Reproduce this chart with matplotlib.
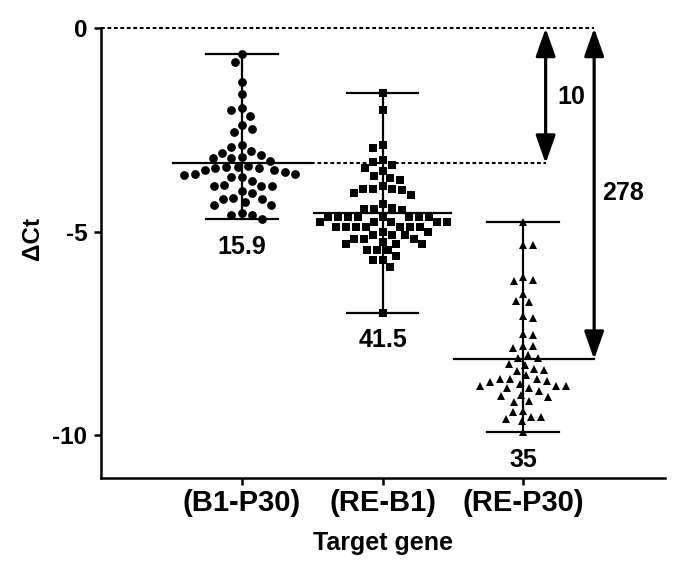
import numpy as np
import matplotlib
matplotlib.use("Agg")
import matplotlib.pyplot as plt
from matplotlib.patches import FancyArrowPatch

plt.rcParams['font.family'] = ['Liberation Sans', 'DejaVu Sans']
plt.rcParams['font.weight'] = 'bold'

# values (delta Ct)
groups = ["(B1-P30)", "(RE-B1)", "(RE-P30)"]
b1_p30 = [-0.63, -0.83, -1.32, -1.62, -1.97, -2.00, -2.15, -2.38, -2.47, -2.55,
          -2.88, -2.91, -3.01, -3.06, -3.11, -3.17, -3.18, -3.20, -3.25, -3.38,
          -3.41, -3.42, -3.44, -3.44, -3.49, -3.49, -3.52, -3.58, -3.59, -3.61,
          -3.66, -3.66, -3.75, -3.86, -3.88, -3.88, -3.88, -4.01, -4.06, -4.17,
          -4.19, -4.19, -4.26, -4.34, -4.34, -4.53, -4.58, -4.60, -4.69]
re_b1 = [-1.58, -2.01, -2.87, -2.93, -3.24, -3.29, -3.35, -3.44, -3.50, -3.62,
         -3.67, -3.72, -3.88, -3.95, -3.95, -3.95, -3.98, -4.06, -4.10, -4.33,
         -4.41, -4.44, -4.44, -4.47, -4.64, -4.64, -4.64, -4.64, -4.64, -4.64,
         -4.64, -4.64, -4.76, -4.76, -4.76, -4.76, -4.76, -4.88, -4.88, -4.88,
         -4.88, -4.88, -4.88, -4.88, -5.00, -5.00, -5.09, -5.09, -5.09, -5.17,
         -5.17, -5.17, -5.25, -5.31, -5.31, -5.31, -5.45, -5.45, -5.45, -5.59,
         -5.70, -5.70, -5.86, -6.99]
re_p30 = [-4.76, -5.32, -5.32, -6.11, -6.19, -6.22, -6.52, -6.70, -6.72, -7.08,
          -7.13, -7.52, -7.54, -7.81, -7.81, -7.85, -8.03, -8.10, -8.10, -8.24,
          -8.28, -8.38, -8.40, -8.43, -8.53, -8.61, -8.62, -8.62, -8.67, -8.69,
          -8.73, -8.79, -8.79, -8.79, -8.85, -8.85, -8.92, -9.00, -9.04, -9.06,
          -9.16, -9.18, -9.40, -9.44, -9.55, -9.55, -9.61, -9.65, -9.93]
group_notes = ["15.9", "41.5", "35"]
fold_labels = ["10", "278"]

series = [b1_p30, re_b1, re_p30]
markers = ["o", "s", "^"]
marker_sizes = [6.3, 6.0, 6.3]
gaps = [10.5, 9.8, 10.0]


def swarm_offsets(ax, x0, values, gap):
    """simple beeswarm in pixel space, returns x offsets in data units"""
    vals = np.asarray(values, dtype=float)
    pts = ax.transData.transform(np.column_stack([np.full(len(vals), x0), vals]))
    ys = pts[:, 1]
    ppu = ax.transData.transform([[1, 0]])[0, 0] - ax.transData.transform([[0, 0]])[0, 0]
    order = np.argsort(-vals)
    placed = []
    xs = np.zeros(len(vals))
    cands = np.arange(0, 200, 0.5)
    for n, i in enumerate(order):
        y = ys[i]
        best = 0.0
        found = False
        for c in cands:
            for s in ((1, -1) if n % 2 == 0 else (-1, 1)):
                x = c * s
                if all((x - px) ** 2 + (y - py) ** 2 >= gap ** 2 for px, py in placed):
                    best = x
                    found = True
                    break
            if found:
                break
        placed.append((best, y))
        xs[i] = best
    return xs / ppu


fig = plt.figure(figsize=(6.85, 5.65), dpi=100)
ax = fig.add_axes([0.148, 0.154, 0.823, 0.796])
ax.set_xlim(0, 4.01)
ax.set_ylim(-11.05, 0)

for spine in ["top", "right"]:
    ax.spines[spine].set_visible(False)
for spine in ["left", "bottom"]:
    ax.spines[spine].set_linewidth(1.8)

lw = 1.6
means = []
for i, (vals, mk, ms, gap) in enumerate(zip(series, markers, marker_sizes, gaps)):
    x0 = i + 1
    offs = swarm_offsets(ax, x0, vals, gap)
    ax.plot(x0 + offs, vals, linestyle="none", marker=mk, markersize=ms,
            color="black", markeredgewidth=0, zorder=3, clip_on=False)
    m = np.mean(vals)
    means.append(m)
    lo, hi = min(vals), max(vals)
    ax.plot([x0, x0], [lo, hi], color="black", lw=lw, zorder=4)
    ax.plot([x0 - 0.255, x0 + 0.255], [hi, hi], color="black", lw=lw, zorder=4)
    ax.plot([x0 - 0.255, x0 + 0.255], [lo, lo], color="black", lw=lw, zorder=4)
    right_end = 3.505 if i == 2 else x0 + 0.49
    ax.plot([x0 - 0.49, right_end], [m, m], color="black", lw=lw, zorder=4)
    ax.text(x0, lo - 0.68, group_notes[i], ha="center", va="center",
            fontsize=18, fontweight="bold")

# dotted reference lines
ax.plot([0, 3.505], [0, 0], color="black", lw=1.5, linestyle=(0, (1.8, 1.3)),
        clip_on=False, zorder=2)
ax.plot([1.49, 3.16], [means[0], means[0]], color="black", lw=1.5,
        linestyle=(0, (1.8, 1.3)), zorder=2)

# fold-change arrows
for xa, ytop, ybot in [(3.16, 0, means[0]), (3.505, 0, means[2])]:
    arr = FancyArrowPatch((xa, ybot), (xa, ytop),
                          arrowstyle="<|-|>,head_length=1.7,head_width=0.6",
                          mutation_scale=10, color="black", lw=2.3,
                          shrinkA=0, shrinkB=0, clip_on=False, zorder=5)
    ax.add_patch(arr)
ax.text(3.34, -1.70, fold_labels[0], ha="center", va="center",
        fontsize=18, fontweight="bold")
ax.text(3.71, -4.05, fold_labels[1], ha="center", va="center",
        fontsize=18, fontweight="bold")

ax.set_yticks([0, -5, -10])
ax.set_yticklabels(["0", "-5", "-10"])
ax.set_xticks([1, 2, 3])
ax.set_xticklabels(groups)
ax.tick_params(axis="y", labelsize=17.5, width=1.8, length=5, pad=5)
ax.tick_params(axis="x", labelsize=21, width=1.8, length=5, pad=3)
for lab in ax.get_xticklabels() + ax.get_yticklabels():
    lab.set_fontweight("bold")

ax.set_ylabel("\u0394Ct", fontsize=17.5, fontweight="bold")
ax.yaxis.set_label_coords(-0.101, 0.533)
ax.set_xlabel("Target gene", fontsize=18, fontweight="bold", labelpad=10)

fig.savefig("out.png", dpi=100)
